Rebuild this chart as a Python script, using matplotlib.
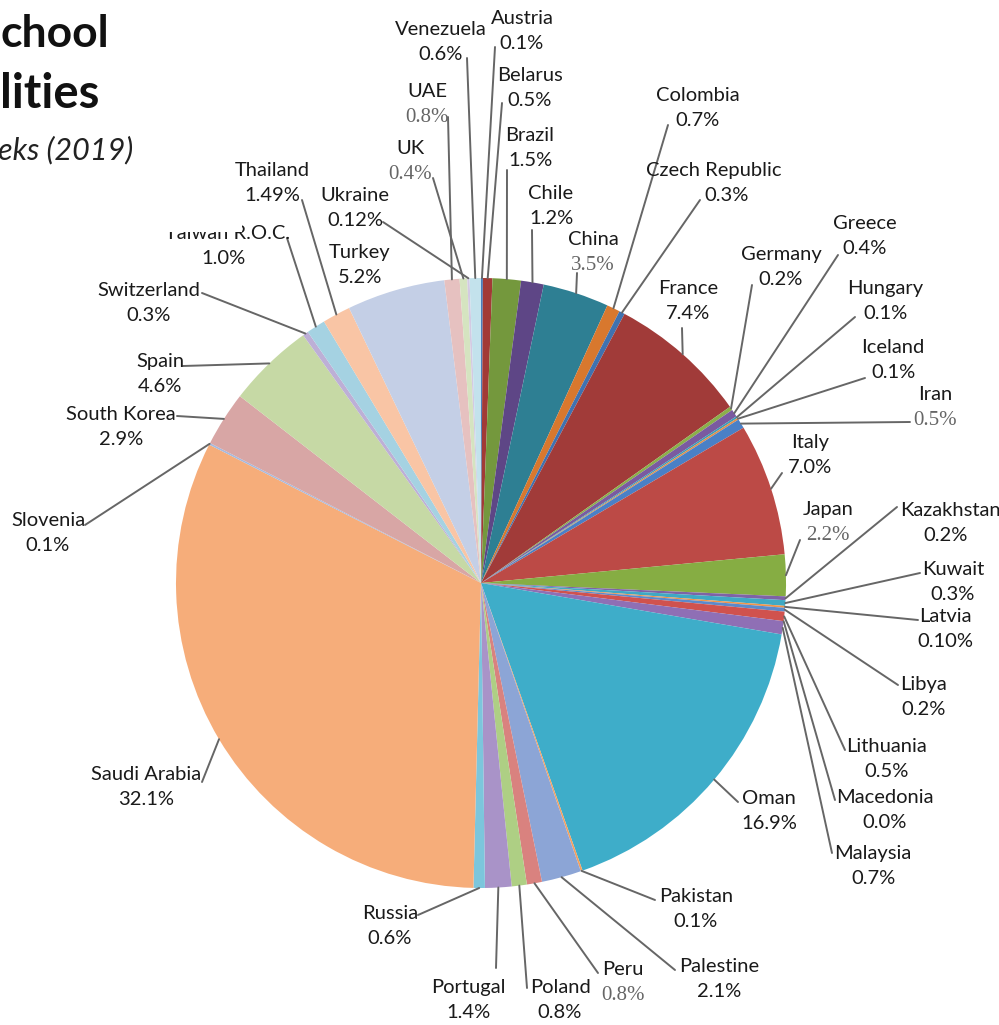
import matplotlib as mpl
mpl.use('Agg')
import matplotlib.pyplot as plt
import numpy as np
from matplotlib.patches import Rectangle

W, H = 999, 1025

countries = ['Austria', 'Belarus', 'Brazil', 'Chile', 'China', 'Colombia',
             'Czech Republic', 'France', 'Germany', 'Greece', 'Hungary',
             'Iceland', 'Iran', 'Italy', 'Japan', 'Kazakhstan', 'Kuwait',
             'Latvia', 'Libya', 'Lithuania', 'Macedonia', 'Malaysia', 'Oman',
             'Pakistan', 'Palestine', 'Peru', 'Poland', 'Portugal', 'Russia',
             'Saudi Arabia', 'Slovenia', 'South Korea', 'Spain', 'Switzerland',
             'Taiwan R.O.C.', 'Thailand', 'Turkey', 'UAE', 'UK', 'Ukraine',
             'Venezuela']
shares = [0.1, 0.5, 1.5, 1.2, 3.5, 0.7,
          0.3, 7.4, 0.2, 0.4, 0.1,
          0.1, 0.5, 7.0, 2.2, 0.2, 0.3,
          0.1, 0.2, 0.5, 0.0, 0.7, 16.9,
          0.1, 2.1, 0.8, 0.8, 1.4, 0.6,
          32.1, 0.1, 2.9, 4.6, 0.3,
          1.0, 1.49, 5.2, 0.8, 0.4, 0.12,
          0.6]
share_labels = ['0.1%', '0.5%', '1.5%', '1.2%', '3.5%', '0.7%',
                '0.3%', '7.4%', '0.2%', '0.4%', '0.1%',
                '0.1%', '0.5%', '7.0%', '2.2%', '0.2%', '0.3%',
                '0.10%', '0.2%', '0.5%', '0.0%', '0.7%', '16.9%',
                '0.1%', '2.1%', '0.8%', '0.8%', '1.4%', '0.6%',
                '32.1%', '0.1%', '2.9%', '4.6%', '0.3%',
                '1.0%', '1.49%', '5.2%', '0.8%', '0.4%', '0.12%',
                '0.6%']
colors = ['#4A7EBB', '#A23A36', '#74983D', '#5E4686', '#2E7F93', '#D8782E',
          '#3F72B0', '#A13B39', '#8BB04A', '#7A5AA0', '#3A9DB8',
          '#E0904C', '#4A80C6', '#BC4A46', '#86AD43', '#7E63A6', '#3FA9C4',
          '#F09448', '#5C8ACB', '#D0524E', '#9BC25A', '#8F6FB5', '#3EADC9',
          '#F5A05E', '#8CA5D6', '#D9827F', '#AECF84', '#A993C8', '#7CC6DC',
          '#F6AD7A', '#A6B9DE', '#D8A6A5', '#C6D9A5', '#BDAFD6',
          '#A5D2E2', '#F9C5A5', '#C4CFE6', '#E6C1C0', '#D5E4C0', '#D3CAE3',
          '#C3E2EC']

# label layout in pixels from the top-left: text centre x, name line centre y,
# end of leader line (x, y)
label_pos = {
    'Austria': (522, 17, 495, 47), 'Belarus': (530, 74, 502, 103),
    'Brazil': (530, 134, 507, 170), 'Chile': (551, 192, 532, 230),
    'China': (593, 238, 577, 273), 'Colombia': (698, 94, 668, 125),
    'Czech Republic': (714, 169, 700, 200), 'France': (688, 287, 682, 328),
    'Germany': (781, 253, 752, 285), 'Greece': (865, 222, 838, 255),
    'Hungary': (885, 287, 855, 317), 'Iceland': (893, 346, 865, 378),
    'Iran': (935, 393, 910, 422), 'Italy': (810, 441, 782, 473),
    'Japan': (828, 508, 800, 540), 'Kazakhstan': (950, 509, 897, 507),
    'Kuwait': (953, 568, 920, 573), 'Latvia': (945, 615, 918, 620),
    'Libya': (924, 683, 898, 685), 'Lithuania': (887, 745, 845, 750),
    'Macedonia': (885, 796, 835, 800), 'Malaysia': (873, 852, 832, 853),
    'Oman': (769, 797, 738, 802), 'Pakistan': (696, 895, 655, 900),
    'Palestine': (719, 965, 675, 970), 'Peru': (623, 968, 598, 973),
    'Poland': (560, 986, 527, 988), 'Portugal': (468, 986, 496, 968),
    'Russia': (390, 912, 418, 915), 'Saudi Arabia': (146, 773, 202, 782),
    'Slovenia': (48, 519, 85, 525), 'South Korea': (121, 413, 177, 416),
    'Spain': (160, 360, 183, 366), 'Switzerland': (149, 289, 202, 293),
    'Taiwan R.O.C.': (228, 232, 287, 238), 'Thailand': (272, 169, 302, 200),
    'Turkey': (360, 251, None, None), 'UAE': (427, 90, 448, 117),
    'UK': (410, 147, 433, 178), 'Ukraine': (355, 194, 383, 222),
    'Venezuela': (441, 28, 467, 58),
}
pct_shift = {'Czech Republic': 13, 'Taiwan R.O.C.': -5, 'Kazakhstan': -4}
serif_pct = {'UAE', 'UK', 'China', 'Iran', 'Japan', 'Peru'}

plt.rcParams['font.family'] = ['Lato', 'DejaVu Sans']

fig = plt.figure(figsize=(W / 100, H / 100), dpi=100)
ax = fig.add_axes([0, 0, 1, 1])

cx, cy, r = 481, H - 583, 305
wedges, _ = ax.pie(shares, colors=colors, startangle=90, counterclock=False,
                   center=(cx, cy), radius=r, wedgeprops=dict(linewidth=0))
ax.set_xlim(0, W)
ax.set_ylim(0, H)
ax.set_aspect('equal')
ax.axis('off')

fs = 14.5
for w, name, pct in zip(wedges, countries, share_labels):
    tx, ty, lx, ly = label_pos[name]
    ax.text(tx, H - ty - 7, name, ha='center', va='baseline', fontsize=fs,
            color='#1a1a1a', zorder=4)
    px = tx + pct_shift.get(name, 0)
    if name in serif_pct:
        ax.text(px, H - ty - 32, pct, ha='center', va='baseline', fontsize=15,
                color='#666666', family='Liberation Serif', zorder=4)
    else:
        ax.text(px, H - ty - 32, pct, ha='center', va='baseline', fontsize=fs,
                color='#1a1a1a', zorder=4)
    if lx is None:
        continue
    mid = np.deg2rad(0.5 * (w.theta1 + w.theta2))
    ex, ey = cx + r * np.cos(mid), cy + r * np.sin(mid)
    ax.plot([ex, lx], [ey, H - ly], color='#666666', lw=1.4, zorder=3,
            solid_capstyle='round')

# the top of the Taiwan label is hidden in the source picture
ax.add_patch(Rectangle((150, H - 232), 92, 22, facecolor='white',
                       edgecolor='none', zorder=6))

# cropped title fragments
ax.text(0, H - 47, 'chool', ha='left', va='baseline', fontsize=32,
        fontweight='bold', color='#111111')
ax.text(0, H - 108, 'lities', ha='left', va='baseline', fontsize=34,
        fontweight='bold', color='#111111')
ax.text(-2, H - 159, 'eks (2019)', ha='left', va='baseline', fontsize=22,
        style='italic', color='#222222')

fig.savefig('out.png', dpi=100)
plt.close(fig)
